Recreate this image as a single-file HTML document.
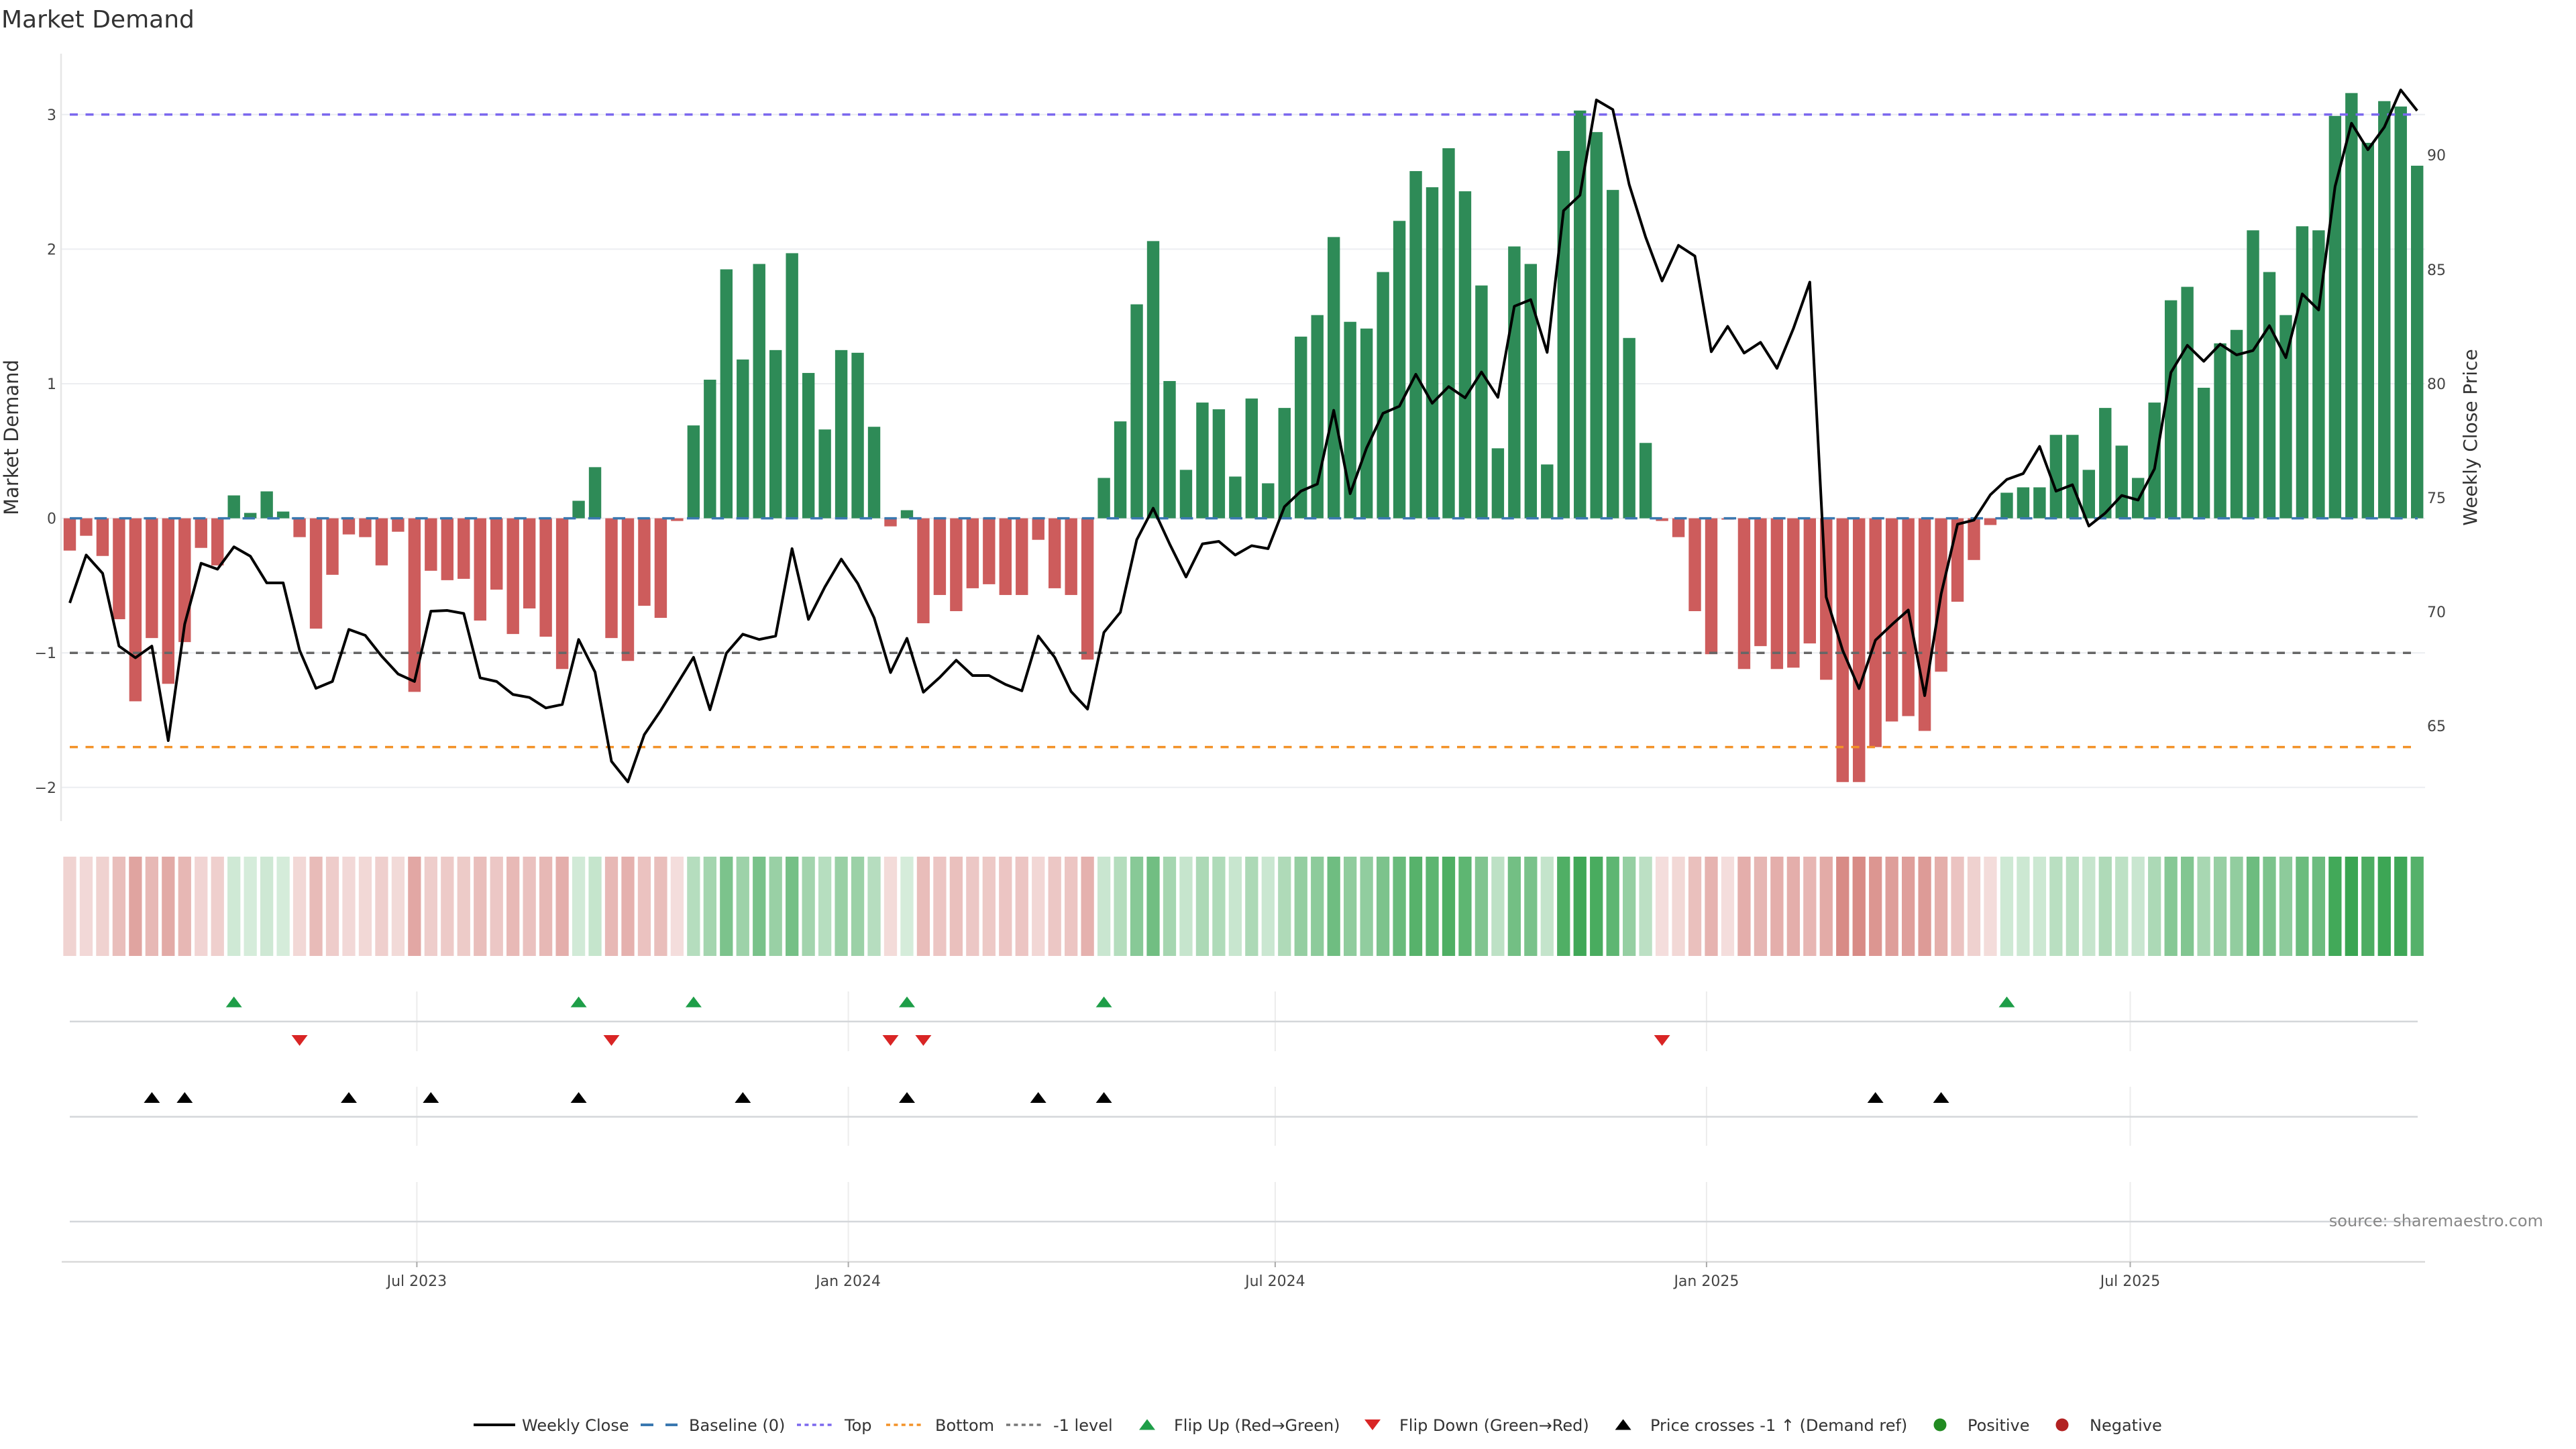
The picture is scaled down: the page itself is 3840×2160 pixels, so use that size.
<!DOCTYPE html>
<html><head><meta charset="utf-8"><style>
html,body{margin:0;padding:0;background:#fff;}
svg{display:block;}
text{font-family:"DejaVu Sans","Liberation Sans",sans-serif;}
.br{fill:#cd5c5c}.bg{fill:#2e8b57}
.hr{fill:#c75851}.hg{fill:#3aa552}
</style></head><body>
<svg width="3840" height="2160" viewBox="0 0 3840 2160" xmlns="http://www.w3.org/2000/svg">
<rect width="3840" height="2160" fill="#fff"/>
<text x="2" y="41" font-size="36" fill="#333">Market Demand</text>

<!-- main gridlines -->
<g stroke="#eceef1" stroke-width="2">
<line x1="91" y1="170.8" x2="3615" y2="170.8"/>
<line x1="91" y1="371.4" x2="3615" y2="371.4"/>
<line x1="91" y1="572" x2="3615" y2="572"/>
<line x1="91" y1="772.6" x2="3615" y2="772.6"/>
<line x1="91" y1="973.2" x2="3615" y2="973.2"/>
<line x1="91" y1="1173.8" x2="3615" y2="1173.8"/>
</g>
<line x1="91" y1="80" x2="91" y2="1224" stroke="#e6e6e6" stroke-width="2.5"/>

<!-- left ticks -->
<g font-size="22" fill="#444" text-anchor="end">
<text x="84" y="179">3</text>
<text x="84" y="379.5">2</text>
<text x="84" y="580">1</text>
<text x="84" y="780.5">0</text>
<text x="84" y="981">−1</text>
<text x="84" y="1182">−2</text>
</g>
<text transform="translate(27,652) rotate(-90)" text-anchor="middle" font-size="29" fill="#333">Market Demand</text>

<!-- right ticks -->
<g font-size="22" fill="#444">
<text x="3618" y="239">90</text>
<text x="3618" y="410">85</text>
<text x="3618" y="580">80</text>
<text x="3618" y="750">75</text>
<text x="3618" y="920">70</text>
<text x="3618" y="1090">65</text>
</g>
<text transform="translate(3692,652) rotate(-90)" text-anchor="middle" font-size="28" fill="#333">Weekly Close Price</text>

<!-- bars -->
<g transform="translate(94.8,772.6) scale(24.47,-200.6)">
<rect class="br" x="0" y="-.24" width=".752" height=".24"/>
<rect class="br" x="1" y="-.13" width=".752" height=".13"/>
<rect class="br" x="2" y="-.28" width=".752" height=".28"/>
<rect class="br" x="3" y="-.75" width=".752" height=".75"/>
<rect class="br" x="4" y="-1.36" width=".752" height="1.36"/>
<rect class="br" x="5" y="-.89" width=".752" height=".89"/>
<rect class="br" x="6" y="-1.23" width=".752" height="1.23"/>
<rect class="br" x="7" y="-.92" width=".752" height=".92"/>
<rect class="br" x="8" y="-.22" width=".752" height=".22"/>
<rect class="br" x="9" y="-.35" width=".752" height=".35"/>
<rect class="bg" x="10" y="0" width=".752" height=".17"/>
<rect class="bg" x="11" y="0" width=".752" height=".04"/>
<rect class="bg" x="12" y="0" width=".752" height=".20"/>
<rect class="bg" x="13" y="0" width=".752" height=".05"/>
<rect class="br" x="14" y="-.14" width=".752" height=".14"/>
<rect class="br" x="15" y="-.82" width=".752" height=".82"/>
<rect class="br" x="16" y="-.42" width=".752" height=".42"/>
<rect class="br" x="17" y="-.12" width=".752" height=".12"/>
<rect class="br" x="18" y="-.14" width=".752" height=".14"/>
<rect class="br" x="19" y="-.35" width=".752" height=".35"/>
<rect class="br" x="20" y="-.10" width=".752" height=".10"/>
<rect class="br" x="21" y="-1.29" width=".752" height="1.29"/>
<rect class="br" x="22" y="-.39" width=".752" height=".39"/>
<rect class="br" x="23" y="-.46" width=".752" height=".46"/>
<rect class="br" x="24" y="-.45" width=".752" height=".45"/>
<rect class="br" x="25" y="-.76" width=".752" height=".76"/>
<rect class="br" x="26" y="-.53" width=".752" height=".53"/>
<rect class="br" x="27" y="-.86" width=".752" height=".86"/>
<rect class="br" x="28" y="-.67" width=".752" height=".67"/>
<rect class="br" x="29" y="-.88" width=".752" height=".88"/>
<rect class="br" x="30" y="-1.12" width=".752" height="1.12"/>
<rect class="bg" x="31" y="0" width=".752" height=".13"/>
<rect class="bg" x="32" y="0" width=".752" height=".38"/>
<rect class="br" x="33" y="-.89" width=".752" height=".89"/>
<rect class="br" x="34" y="-1.06" width=".752" height="1.06"/>
<rect class="br" x="35" y="-.65" width=".752" height=".65"/>
<rect class="br" x="36" y="-.74" width=".752" height=".74"/>
<rect class="br" x="37" y="-.02" width=".752" height=".02"/>
<rect class="bg" x="38" y="0" width=".752" height=".69"/>
<rect class="bg" x="39" y="0" width=".752" height="1.03"/>
<rect class="bg" x="40" y="0" width=".752" height="1.85"/>
<rect class="bg" x="41" y="0" width=".752" height="1.18"/>
<rect class="bg" x="42" y="0" width=".752" height="1.89"/>
<rect class="bg" x="43" y="0" width=".752" height="1.25"/>
<rect class="bg" x="44" y="0" width=".752" height="1.97"/>
<rect class="bg" x="45" y="0" width=".752" height="1.08"/>
<rect class="bg" x="46" y="0" width=".752" height=".66"/>
<rect class="bg" x="47" y="0" width=".752" height="1.25"/>
<rect class="bg" x="48" y="0" width=".752" height="1.23"/>
<rect class="bg" x="49" y="0" width=".752" height=".68"/>
<rect class="br" x="50" y="-.06" width=".752" height=".06"/>
<rect class="bg" x="51" y="0" width=".752" height=".06"/>
<rect class="br" x="52" y="-.78" width=".752" height=".78"/>
<rect class="br" x="53" y="-.57" width=".752" height=".57"/>
<rect class="br" x="54" y="-.69" width=".752" height=".69"/>
<rect class="br" x="55" y="-.52" width=".752" height=".52"/>
<rect class="br" x="56" y="-.49" width=".752" height=".49"/>
<rect class="br" x="57" y="-.57" width=".752" height=".57"/>
<rect class="br" x="58" y="-.57" width=".752" height=".57"/>
<rect class="br" x="59" y="-.16" width=".752" height=".16"/>
<rect class="br" x="60" y="-.52" width=".752" height=".52"/>
<rect class="br" x="61" y="-.57" width=".752" height=".57"/>
<rect class="br" x="62" y="-1.05" width=".752" height="1.05"/>
<rect class="bg" x="63" y="0" width=".752" height=".30"/>
<rect class="bg" x="64" y="0" width=".752" height=".72"/>
<rect class="bg" x="65" y="0" width=".752" height="1.59"/>
<rect class="bg" x="66" y="0" width=".752" height="2.06"/>
<rect class="bg" x="67" y="0" width=".752" height="1.02"/>
<rect class="bg" x="68" y="0" width=".752" height=".36"/>
<rect class="bg" x="69" y="0" width=".752" height=".86"/>
<rect class="bg" x="70" y="0" width=".752" height=".81"/>
<rect class="bg" x="71" y="0" width=".752" height=".31"/>
<rect class="bg" x="72" y="0" width=".752" height=".89"/>
<rect class="bg" x="73" y="0" width=".752" height=".26"/>
<rect class="bg" x="74" y="0" width=".752" height=".82"/>
<rect class="bg" x="75" y="0" width=".752" height="1.35"/>
<rect class="bg" x="76" y="0" width=".752" height="1.51"/>
<rect class="bg" x="77" y="0" width=".752" height="2.09"/>
<rect class="bg" x="78" y="0" width=".752" height="1.46"/>
<rect class="bg" x="79" y="0" width=".752" height="1.41"/>
<rect class="bg" x="80" y="0" width=".752" height="1.83"/>
<rect class="bg" x="81" y="0" width=".752" height="2.21"/>
<rect class="bg" x="82" y="0" width=".752" height="2.58"/>
<rect class="bg" x="83" y="0" width=".752" height="2.46"/>
<rect class="bg" x="84" y="0" width=".752" height="2.75"/>
<rect class="bg" x="85" y="0" width=".752" height="2.43"/>
<rect class="bg" x="86" y="0" width=".752" height="1.73"/>
<rect class="bg" x="87" y="0" width=".752" height=".52"/>
<rect class="bg" x="88" y="0" width=".752" height="2.02"/>
<rect class="bg" x="89" y="0" width=".752" height="1.89"/>
<rect class="bg" x="90" y="0" width=".752" height=".40"/>
<rect class="bg" x="91" y="0" width=".752" height="2.73"/>
<rect class="bg" x="92" y="0" width=".752" height="3.03"/>
<rect class="bg" x="93" y="0" width=".752" height="2.87"/>
<rect class="bg" x="94" y="0" width=".752" height="2.44"/>
<rect class="bg" x="95" y="0" width=".752" height="1.34"/>
<rect class="bg" x="96" y="0" width=".752" height=".56"/>
<rect class="br" x="97" y="-.02" width=".752" height=".02"/>
<rect class="br" x="98" y="-.14" width=".752" height=".14"/>
<rect class="br" x="99" y="-.69" width=".752" height=".69"/>
<rect class="br" x="100" y="-1.01" width=".752" height="1.01"/>
<rect class="br" x="101" y="-.01" width=".752" height=".01"/>
<rect class="br" x="102" y="-1.12" width=".752" height="1.12"/>
<rect class="br" x="103" y="-.95" width=".752" height=".95"/>
<rect class="br" x="104" y="-1.12" width=".752" height="1.12"/>
<rect class="br" x="105" y="-1.11" width=".752" height="1.11"/>
<rect class="br" x="106" y="-.93" width=".752" height=".93"/>
<rect class="br" x="107" y="-1.20" width=".752" height="1.20"/>
<rect class="br" x="108" y="-1.96" width=".752" height="1.96"/>
<rect class="br" x="109" y="-1.96" width=".752" height="1.96"/>
<rect class="br" x="110" y="-1.70" width=".752" height="1.70"/>
<rect class="br" x="111" y="-1.51" width=".752" height="1.51"/>
<rect class="br" x="112" y="-1.47" width=".752" height="1.47"/>
<rect class="br" x="113" y="-1.58" width=".752" height="1.58"/>
<rect class="br" x="114" y="-1.14" width=".752" height="1.14"/>
<rect class="br" x="115" y="-.62" width=".752" height=".62"/>
<rect class="br" x="116" y="-.31" width=".752" height=".31"/>
<rect class="br" x="117" y="-.05" width=".752" height=".05"/>
<rect class="bg" x="118" y="0" width=".752" height=".19"/>
<rect class="bg" x="119" y="0" width=".752" height=".23"/>
<rect class="bg" x="120" y="0" width=".752" height=".23"/>
<rect class="bg" x="121" y="0" width=".752" height=".62"/>
<rect class="bg" x="122" y="0" width=".752" height=".62"/>
<rect class="bg" x="123" y="0" width=".752" height=".36"/>
<rect class="bg" x="124" y="0" width=".752" height=".82"/>
<rect class="bg" x="125" y="0" width=".752" height=".54"/>
<rect class="bg" x="126" y="0" width=".752" height=".30"/>
<rect class="bg" x="127" y="0" width=".752" height=".86"/>
<rect class="bg" x="128" y="0" width=".752" height="1.62"/>
<rect class="bg" x="129" y="0" width=".752" height="1.72"/>
<rect class="bg" x="130" y="0" width=".752" height=".97"/>
<rect class="bg" x="131" y="0" width=".752" height="1.30"/>
<rect class="bg" x="132" y="0" width=".752" height="1.40"/>
<rect class="bg" x="133" y="0" width=".752" height="2.14"/>
<rect class="bg" x="134" y="0" width=".752" height="1.83"/>
<rect class="bg" x="135" y="0" width=".752" height="1.51"/>
<rect class="bg" x="136" y="0" width=".752" height="2.17"/>
<rect class="bg" x="137" y="0" width=".752" height="2.14"/>
<rect class="bg" x="138" y="0" width=".752" height="2.99"/>
<rect class="bg" x="139" y="0" width=".752" height="3.16"/>
<rect class="bg" x="140" y="0" width=".752" height="2.79"/>
<rect class="bg" x="141" y="0" width=".752" height="3.10"/>
<rect class="bg" x="142" y="0" width=".752" height="3.06"/>
<rect class="bg" x="143" y="0" width=".752" height="2.62"/>
</g>

<!-- reference lines -->
<g stroke-width="3.5" fill="none">
<line x1="104" y1="170.8" x2="3604" y2="170.8" stroke="#7b68ee" stroke-dasharray="12 11.5"/>
<line x1="104" y1="973.2" x2="3604" y2="973.2" stroke="#666" stroke-dasharray="12 11.5"/>
<line x1="104" y1="1113.6" x2="3604" y2="1113.6" stroke="#f39228" stroke-dasharray="12 11.5"/>
<line x1="104" y1="772.6" x2="3604" y2="772.6" stroke="#3a78b0" stroke-dasharray="18.4 18.4"/>
</g>

<!-- price line -->
<g transform="translate(104,3293.5) scale(24.47,-34.02)">
<polyline fill="none" stroke="#000" stroke-width="4" vector-effect="non-scaling-stroke" stroke-linejoin="round" points="0,70.39 1,72.49 2,71.69 3,68.50 4,67.99 5,68.50 6,64.36 7,69.46 8,72.13 9,71.87 10,72.85 11,72.44 12,71.27 13,71.27 14,68.32 15,66.65 16,66.95 17,69.23 18,68.97 19,68.06 20,67.28 21,66.95 22,70.03 23,70.06 24,69.93 25,67.11 26,66.95 27,66.38 28,66.25 29,65.79 30,65.94 31,68.79 32,67.36 33,63.45 34,62.55 35,64.62 36,65.68 37,66.84 38,68.01 39,65.71 40,68.19 41,69.02 42,68.79 43,68.94 44,72.77 45,69.67 46,71.09 47,72.31 48,71.25 49,69.74 50,67.34 51,68.84 52,66.48 53,67.13 54,67.88 55,67.21 56,67.21 57,66.82 58,66.54 59,68.94 60,68.01 61,66.51 62,65.74 63,69.10 64,69.98 65,73.16 66,74.54 67,72.98 68,71.53 69,72.98 70,73.09 71,72.49 72,72.90 73,72.77 74,74.61 75,75.29 76,75.60 77,78.83 78,75.18 79,77.18 80,78.70 81,79.01 82,80.41 83,79.14 84,79.87 85,79.38 86,80.51 87,79.40 88,83.39 89,83.68 90,81.37 91,87.58 92,88.26 93,92.43 94,92.01 95,88.72 96,86.42 97,84.50 98,86.06 99,85.59 100,81.40 101,82.51 102,81.34 103,81.81 104,80.67 105,82.41 106,84.45 107,70.65 108,68.32 109,66.64 110,68.76 111,69.44 112,70.08 113,66.33 114,70.78 115,73.84 116,74.02 117,75.13 118,75.80 119,76.06 120,77.25 121,75.29 122,75.57 123,73.76 124,74.33 125,75.10 126,74.90 127,76.27 128,80.49 129,81.68 130,80.98 131,81.73 132,81.26 133,81.45 134,82.54 135,81.14 136,83.93 137,83.23 138,88.64 139,91.41 140,90.25 141,91.24 142,92.87 143,91.96"/>
</g>

<!-- heat strip -->
<g transform="translate(94.36,1277) scale(24.47,1)">
<rect class="hr" x="0" y="0" width=".788" height="148" fill-opacity=".261"/>
<rect class="hr" x="1" y="0" width=".788" height="148" fill-opacity=".233"/>
<rect class="hr" x="2" y="0" width=".788" height="148" fill-opacity=".271"/>
<rect class="hr" x="3" y="0" width=".788" height="148" fill-opacity=".390"/>
<rect class="hr" x="4" y="0" width=".788" height="148" fill-opacity=".544"/>
<rect class="hr" x="5" y="0" width=".788" height="148" fill-opacity=".425"/>
<rect class="hr" x="6" y="0" width=".788" height="148" fill-opacity=".511"/>
<rect class="hr" x="7" y="0" width=".788" height="148" fill-opacity=".433"/>
<rect class="hr" x="8" y="0" width=".788" height="148" fill-opacity=".256"/>
<rect class="hr" x="9" y="0" width=".788" height="148" fill-opacity=".289"/>
<rect class="hg" x="10" y="0" width=".788" height="148" fill-opacity=".243"/>
<rect class="hg" x="11" y="0" width=".788" height="148" fill-opacity=".210"/>
<rect class="hg" x="12" y="0" width=".788" height="148" fill-opacity=".251"/>
<rect class="hg" x="13" y="0" width=".788" height="148" fill-opacity=".213"/>
<rect class="hr" x="14" y="0" width=".788" height="148" fill-opacity=".235"/>
<rect class="hr" x="15" y="0" width=".788" height="148" fill-opacity=".407"/>
<rect class="hr" x="16" y="0" width=".788" height="148" fill-opacity=".306"/>
<rect class="hr" x="17" y="0" width=".788" height="148" fill-opacity=".230"/>
<rect class="hr" x="18" y="0" width=".788" height="148" fill-opacity=".235"/>
<rect class="hr" x="19" y="0" width=".788" height="148" fill-opacity=".289"/>
<rect class="hr" x="20" y="0" width=".788" height="148" fill-opacity=".225"/>
<rect class="hr" x="21" y="0" width=".788" height="148" fill-opacity=".526"/>
<rect class="hr" x="22" y="0" width=".788" height="148" fill-opacity=".299"/>
<rect class="hr" x="23" y="0" width=".788" height="148" fill-opacity=".316"/>
<rect class="hr" x="24" y="0" width=".788" height="148" fill-opacity=".314"/>
<rect class="hr" x="25" y="0" width=".788" height="148" fill-opacity=".392"/>
<rect class="hr" x="26" y="0" width=".788" height="148" fill-opacity=".334"/>
<rect class="hr" x="27" y="0" width=".788" height="148" fill-opacity=".418"/>
<rect class="hr" x="28" y="0" width=".788" height="148" fill-opacity=".370"/>
<rect class="hr" x="29" y="0" width=".788" height="148" fill-opacity=".423"/>
<rect class="hr" x="30" y="0" width=".788" height="148" fill-opacity=".483"/>
<rect class="hg" x="31" y="0" width=".788" height="148" fill-opacity=".233"/>
<rect class="hg" x="32" y="0" width=".788" height="148" fill-opacity=".296"/>
<rect class="hr" x="33" y="0" width=".788" height="148" fill-opacity=".425"/>
<rect class="hr" x="34" y="0" width=".788" height="148" fill-opacity=".468"/>
<rect class="hr" x="35" y="0" width=".788" height="148" fill-opacity=".364"/>
<rect class="hr" x="36" y="0" width=".788" height="148" fill-opacity=".387"/>
<rect class="hr" x="37" y="0" width=".788" height="148" fill-opacity=".205"/>
<rect class="hg" x="38" y="0" width=".788" height="148" fill-opacity=".375"/>
<rect class="hg" x="39" y="0" width=".788" height="148" fill-opacity=".461"/>
<rect class="hg" x="40" y="0" width=".788" height="148" fill-opacity=".668"/>
<rect class="hg" x="41" y="0" width=".788" height="148" fill-opacity=".499"/>
<rect class="hg" x="42" y="0" width=".788" height="148" fill-opacity=".678"/>
<rect class="hg" x="43" y="0" width=".788" height="148" fill-opacity=".516"/>
<rect class="hg" x="44" y="0" width=".788" height="148" fill-opacity=".698"/>
<rect class="hg" x="45" y="0" width=".788" height="148" fill-opacity=".473"/>
<rect class="hg" x="46" y="0" width=".788" height="148" fill-opacity=".367"/>
<rect class="hg" x="47" y="0" width=".788" height="148" fill-opacity=".516"/>
<rect class="hg" x="48" y="0" width=".788" height="148" fill-opacity=".511"/>
<rect class="hg" x="49" y="0" width=".788" height="148" fill-opacity=".372"/>
<rect class="hr" x="50" y="0" width=".788" height="148" fill-opacity=".215"/>
<rect class="hg" x="51" y="0" width=".788" height="148" fill-opacity=".215"/>
<rect class="hr" x="52" y="0" width=".788" height="148" fill-opacity=".397"/>
<rect class="hr" x="53" y="0" width=".788" height="148" fill-opacity=".344"/>
<rect class="hr" x="54" y="0" width=".788" height="148" fill-opacity=".375"/>
<rect class="hr" x="55" y="0" width=".788" height="148" fill-opacity=".332"/>
<rect class="hr" x="56" y="0" width=".788" height="148" fill-opacity=".324"/>
<rect class="hr" x="57" y="0" width=".788" height="148" fill-opacity=".344"/>
<rect class="hr" x="58" y="0" width=".788" height="148" fill-opacity=".344"/>
<rect class="hr" x="59" y="0" width=".788" height="148" fill-opacity=".240"/>
<rect class="hr" x="60" y="0" width=".788" height="148" fill-opacity=".332"/>
<rect class="hr" x="61" y="0" width=".788" height="148" fill-opacity=".344"/>
<rect class="hr" x="62" y="0" width=".788" height="148" fill-opacity=".466"/>
<rect class="hg" x="63" y="0" width=".788" height="148" fill-opacity=".276"/>
<rect class="hg" x="64" y="0" width=".788" height="148" fill-opacity=".382"/>
<rect class="hg" x="65" y="0" width=".788" height="148" fill-opacity=".602"/>
<rect class="hg" x="66" y="0" width=".788" height="148" fill-opacity=".721"/>
<rect class="hg" x="67" y="0" width=".788" height="148" fill-opacity=".458"/>
<rect class="hg" x="68" y="0" width=".788" height="148" fill-opacity=".291"/>
<rect class="hg" x="69" y="0" width=".788" height="148" fill-opacity=".418"/>
<rect class="hg" x="70" y="0" width=".788" height="148" fill-opacity=".405"/>
<rect class="hg" x="71" y="0" width=".788" height="148" fill-opacity=".278"/>
<rect class="hg" x="72" y="0" width=".788" height="148" fill-opacity=".425"/>
<rect class="hg" x="73" y="0" width=".788" height="148" fill-opacity=".266"/>
<rect class="hg" x="74" y="0" width=".788" height="148" fill-opacity=".407"/>
<rect class="hg" x="75" y="0" width=".788" height="148" fill-opacity=".542"/>
<rect class="hg" x="76" y="0" width=".788" height="148" fill-opacity=".582"/>
<rect class="hg" x="77" y="0" width=".788" height="148" fill-opacity=".729"/>
<rect class="hg" x="78" y="0" width=".788" height="148" fill-opacity=".569"/>
<rect class="hg" x="79" y="0" width=".788" height="148" fill-opacity=".557"/>
<rect class="hg" x="80" y="0" width=".788" height="148" fill-opacity=".663"/>
<rect class="hg" x="81" y="0" width=".788" height="148" fill-opacity=".759"/>
<rect class="hg" x="82" y="0" width=".788" height="148" fill-opacity=".853"/>
<rect class="hg" x="83" y="0" width=".788" height="148" fill-opacity=".822"/>
<rect class="hg" x="84" y="0" width=".788" height="148" fill-opacity=".896"/>
<rect class="hg" x="85" y="0" width=".788" height="148" fill-opacity=".815"/>
<rect class="hg" x="86" y="0" width=".788" height="148" fill-opacity=".638"/>
<rect class="hg" x="87" y="0" width=".788" height="148" fill-opacity=".332"/>
<rect class="hg" x="88" y="0" width=".788" height="148" fill-opacity=".711"/>
<rect class="hg" x="89" y="0" width=".788" height="148" fill-opacity=".678"/>
<rect class="hg" x="90" y="0" width=".788" height="148" fill-opacity=".301"/>
<rect class="hg" x="91" y="0" width=".788" height="148" fill-opacity=".891"/>
<rect class="hg" x="92" y="0" width=".788" height="148" fill-opacity=".967"/>
<rect class="hg" x="93" y="0" width=".788" height="148" fill-opacity=".926"/>
<rect class="hg" x="94" y="0" width=".788" height="148" fill-opacity=".817"/>
<rect class="hg" x="95" y="0" width=".788" height="148" fill-opacity=".539"/>
<rect class="hg" x="96" y="0" width=".788" height="148" fill-opacity=".342"/>
<rect class="hr" x="97" y="0" width=".788" height="148" fill-opacity=".205"/>
<rect class="hr" x="98" y="0" width=".788" height="148" fill-opacity=".235"/>
<rect class="hr" x="99" y="0" width=".788" height="148" fill-opacity=".375"/>
<rect class="hr" x="100" y="0" width=".788" height="148" fill-opacity=".456"/>
<rect class="hr" x="101" y="0" width=".788" height="148" fill-opacity=".203"/>
<rect class="hr" x="102" y="0" width=".788" height="148" fill-opacity=".483"/>
<rect class="hr" x="103" y="0" width=".788" height="148" fill-opacity=".440"/>
<rect class="hr" x="104" y="0" width=".788" height="148" fill-opacity=".483"/>
<rect class="hr" x="105" y="0" width=".788" height="148" fill-opacity=".481"/>
<rect class="hr" x="106" y="0" width=".788" height="148" fill-opacity=".435"/>
<rect class="hr" x="107" y="0" width=".788" height="148" fill-opacity=".504"/>
<rect class="hr" x="108" y="0" width=".788" height="148" fill-opacity=".696"/>
<rect class="hr" x="109" y="0" width=".788" height="148" fill-opacity=".696"/>
<rect class="hr" x="110" y="0" width=".788" height="148" fill-opacity=".630"/>
<rect class="hr" x="111" y="0" width=".788" height="148" fill-opacity=".582"/>
<rect class="hr" x="112" y="0" width=".788" height="148" fill-opacity=".572"/>
<rect class="hr" x="113" y="0" width=".788" height="148" fill-opacity=".600"/>
<rect class="hr" x="114" y="0" width=".788" height="148" fill-opacity=".488"/>
<rect class="hr" x="115" y="0" width=".788" height="148" fill-opacity=".357"/>
<rect class="hr" x="116" y="0" width=".788" height="148" fill-opacity=".278"/>
<rect class="hr" x="117" y="0" width=".788" height="148" fill-opacity=".213"/>
<rect class="hg" x="118" y="0" width=".788" height="148" fill-opacity=".248"/>
<rect class="hg" x="119" y="0" width=".788" height="148" fill-opacity=".258"/>
<rect class="hg" x="120" y="0" width=".788" height="148" fill-opacity=".258"/>
<rect class="hg" x="121" y="0" width=".788" height="148" fill-opacity=".357"/>
<rect class="hg" x="122" y="0" width=".788" height="148" fill-opacity=".357"/>
<rect class="hg" x="123" y="0" width=".788" height="148" fill-opacity=".291"/>
<rect class="hg" x="124" y="0" width=".788" height="148" fill-opacity=".407"/>
<rect class="hg" x="125" y="0" width=".788" height="148" fill-opacity=".337"/>
<rect class="hg" x="126" y="0" width=".788" height="148" fill-opacity=".276"/>
<rect class="hg" x="127" y="0" width=".788" height="148" fill-opacity=".418"/>
<rect class="hg" x="128" y="0" width=".788" height="148" fill-opacity=".610"/>
<rect class="hg" x="129" y="0" width=".788" height="148" fill-opacity=".635"/>
<rect class="hg" x="130" y="0" width=".788" height="148" fill-opacity=".445"/>
<rect class="hg" x="131" y="0" width=".788" height="148" fill-opacity=".529"/>
<rect class="hg" x="132" y="0" width=".788" height="148" fill-opacity=".554"/>
<rect class="hg" x="133" y="0" width=".788" height="148" fill-opacity=".741"/>
<rect class="hg" x="134" y="0" width=".788" height="148" fill-opacity=".663"/>
<rect class="hg" x="135" y="0" width=".788" height="148" fill-opacity=".582"/>
<rect class="hg" x="136" y="0" width=".788" height="148" fill-opacity=".749"/>
<rect class="hg" x="137" y="0" width=".788" height="148" fill-opacity=".741"/>
<rect class="hg" x="138" y="0" width=".788" height="148" fill-opacity=".956"/>
<rect class="hg" x="139" y="0" width=".788" height="148" fill-opacity="1"/>
<rect class="hg" x="140" y="0" width=".788" height="148" fill-opacity=".906"/>
<rect class="hg" x="141" y="0" width=".788" height="148" fill-opacity=".984"/>
<rect class="hg" x="142" y="0" width=".788" height="148" fill-opacity=".974"/>
<rect class="hg" x="143" y="0" width=".788" height="148" fill-opacity=".863"/>
</g>

<!-- lower panels: vertical gridlines -->
<g stroke="#ececec" stroke-width="2">
<line x1="621.4" y1="1478" x2="621.4" y2="1567"/><line x1="621.4" y1="1620" x2="621.4" y2="1708"/><line x1="621.4" y1="1762" x2="621.4" y2="1881"/>
<line x1="1264.6" y1="1478" x2="1264.6" y2="1567"/><line x1="1264.6" y1="1620" x2="1264.6" y2="1708"/><line x1="1264.6" y1="1762" x2="1264.6" y2="1881"/>
<line x1="1900.9" y1="1478" x2="1900.9" y2="1567"/><line x1="1900.9" y1="1620" x2="1900.9" y2="1708"/><line x1="1900.9" y1="1762" x2="1900.9" y2="1881"/>
<line x1="2543.9" y1="1478" x2="2543.9" y2="1567"/><line x1="2543.9" y1="1620" x2="2543.9" y2="1708"/><line x1="2543.9" y1="1762" x2="2543.9" y2="1881"/>
<line x1="3175.5" y1="1478" x2="3175.5" y2="1567"/><line x1="3175.5" y1="1620" x2="3175.5" y2="1708"/><line x1="3175.5" y1="1762" x2="3175.5" y2="1881"/>
</g>
<g stroke="#d4d7da" stroke-width="2.5">
<line x1="104" y1="1522.7" x2="3604" y2="1522.7"/>
<line x1="104" y1="1664.7" x2="3604" y2="1664.7"/>
<line x1="104" y1="1821" x2="3604" y2="1821"/>
</g>

<!-- flip up markers -->
<g fill="#1e9e48">
<polygon points="336.7,1501.5 360.7,1501.5 348.7,1485.5"/>
<polygon points="850.6,1501.5 874.6,1501.5 862.6,1485.5"/>
<polygon points="1021.9,1501.5 1045.9,1501.5 1033.9,1485.5"/>
<polygon points="1340,1501.5 1364,1501.5 1352,1485.5"/>
<polygon points="1633.6,1501.5 1657.6,1501.5 1645.6,1485.5"/>
<polygon points="2979.5,1501.5 3003.5,1501.5 2991.5,1485.5"/>
</g>
<!-- flip down markers -->
<g fill="#d92525">
<polygon points="434.6,1543 458.6,1543 446.6,1559"/>
<polygon points="899.5,1543 923.5,1543 911.5,1559"/>
<polygon points="1315.5,1543 1339.5,1543 1327.5,1559"/>
<polygon points="1364.4,1543 1388.4,1543 1376.4,1559"/>
<polygon points="2465.6,1543 2489.6,1543 2477.6,1559"/>
</g>
<!-- price crosses markers -->
<g fill="#000">
<polygon points="214.4,1644 238.4,1644 226.4,1628"/>
<polygon points="263.3,1644 287.3,1644 275.3,1628"/>
<polygon points="508,1644 532,1644 520,1628"/>
<polygon points="630.3,1644 654.3,1644 642.3,1628"/>
<polygon points="850.6,1644 874.6,1644 862.6,1628"/>
<polygon points="1095.3,1644 1119.3,1644 1107.3,1628"/>
<polygon points="1340,1644 1364,1644 1352,1628"/>
<polygon points="1535.7,1644 1559.7,1644 1547.7,1628"/>
<polygon points="1633.6,1644 1657.6,1644 1645.6,1628"/>
<polygon points="2783.7,1644 2807.7,1644 2795.7,1628"/>
<polygon points="2881.6,1644 2905.6,1644 2893.6,1628"/>
</g>

<text x="3791" y="1828" text-anchor="end" font-size="24" fill="#888">source: sharemaestro.com</text>

<!-- x axis -->
<line x1="92" y1="1881" x2="3615" y2="1881" stroke="#d9d9d9" stroke-width="2.5"/>
<g stroke="#aaa" stroke-width="2">
<line x1="621.4" y1="1881" x2="621.4" y2="1889"/>
<line x1="1264.6" y1="1881" x2="1264.6" y2="1889"/>
<line x1="1900.9" y1="1881" x2="1900.9" y2="1889"/>
<line x1="2543.9" y1="1881" x2="2543.9" y2="1889"/>
<line x1="3175.5" y1="1881" x2="3175.5" y2="1889"/>
</g>
<g font-size="22" fill="#444" text-anchor="middle">
<text x="621.4" y="1917">Jul 2023</text>
<text x="1264.6" y="1917">Jan 2024</text>
<text x="1900.9" y="1917">Jul 2024</text>
<text x="2543.9" y="1917">Jan 2025</text>
<text x="3175.5" y="1917">Jul 2025</text>
</g>

<!-- legend -->
<g font-size="24" fill="#333">
<line x1="706" y1="2124" x2="768" y2="2124" stroke="#000" stroke-width="4"/>
<text x="778" y="2133">Weekly Close</text>
<line x1="955" y1="2124" x2="1010" y2="2124" stroke="#3a78b0" stroke-width="4" stroke-dasharray="19 18"/>
<text x="1027" y="2133">Baseline (0)</text>
<line x1="1188" y1="2124" x2="1245" y2="2124" stroke="#7b68ee" stroke-width="3.5" stroke-dasharray="6 5.4"/>
<text x="1259" y="2133">Top</text>
<line x1="1321" y1="2124" x2="1376" y2="2124" stroke="#f39228" stroke-width="3.5" stroke-dasharray="6 5.4"/>
<text x="1394" y="2133">Bottom</text>
<line x1="1500" y1="2124" x2="1555" y2="2124" stroke="#777" stroke-width="3.5" stroke-dasharray="6 5.4"/>
<text x="1570" y="2133">-1 level</text>
<polygon points="1698,2131.5 1722,2131.5 1710,2115.5" fill="#1e9e48"/>
<text x="1750" y="2133">Flip Up (Red→Green)</text>
<polygon points="2034,2116 2058,2116 2046,2132" fill="#d92525"/>
<text x="2086" y="2133">Flip Down (Green→Red)</text>
<polygon points="2407.6,2131.5 2431.6,2131.5 2419.6,2115.5" fill="#000"/>
<text x="2460" y="2133">Price crosses -1 ↑ (Demand ref)</text>
<circle cx="2892" cy="2124" r="9.5" fill="#228b22"/>
<text x="2933" y="2133">Positive</text>
<circle cx="3074" cy="2124" r="9.5" fill="#b22222"/>
<text x="3115" y="2133">Negative</text>
</g>
</svg>
</body></html>
